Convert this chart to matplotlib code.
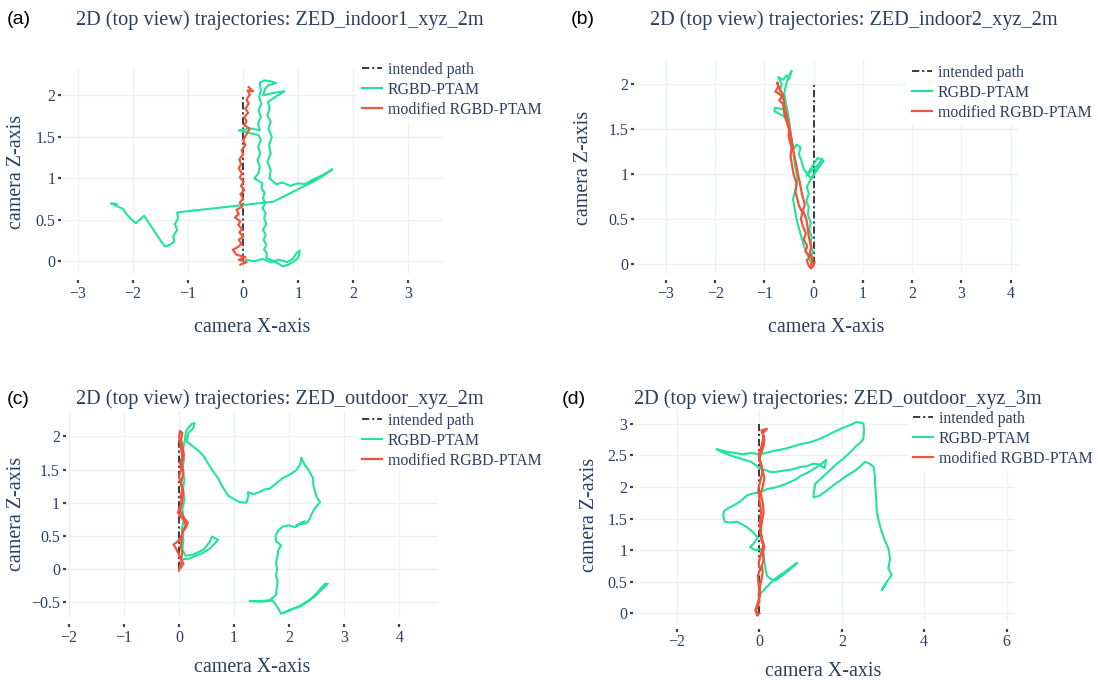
import matplotlib
matplotlib.use("Agg")
import matplotlib.pyplot as plt

# velikost obrazku v pixelech
W, H = 1098, 680

plt.rcParams['font.family'] = ['Liberation Serif', 'DejaVu Serif']

# --- data (X, Z) ---
panel_letters = ['(a)', '(b)', '(c)', '(d)']
panel_titles = ['2D (top view) trajectories: ZED_indoor1_xyz_2m',
                '2D (top view) trajectories: ZED_indoor2_xyz_2m',
                '2D (top view) trajectories: ZED_outdoor_xyz_2m',
                '2D (top view) trajectories: ZED_outdoor_xyz_3m']
series_names = ['intended path', 'RGBD-PTAM', 'modified RGBD-PTAM']

indoor1_path = [(0.0, 0.0), (0.0, 2.0)]
indoor1_rgbd = [(0.05, 0.02), (0.2, 0.0), (0.35, 0.03), (0.5, -0.01), (0.65, 0.02), (0.8, -0.01), (0.9, 0.03),
                (0.97, 0.1), (1.03, 0.13), (1.0, 0.04), (0.92, 0.0), (0.82, -0.04), (0.72, -0.06), (0.62, -0.02),
                (0.5, 0.02), (0.42, 0.04), (0.43, 0.1), (0.38, 0.14), (0.42, 0.2), (0.37, 0.26), (0.41, 0.32),
                (0.36, 0.38), (0.42, 0.45), (0.38, 0.52), (0.41, 0.58), (0.35, 0.64), (0.4, 0.7), (0.36, 0.76),
                (0.39, 0.83), (0.33, 0.88), (0.35, 0.94), (0.2, 1.0), (0.28, 1.06), (0.3, 1.14), (0.26, 1.22),
                (0.31, 1.3), (0.27, 1.38), (0.32, 1.46), (0.28, 1.52), (0.1, 1.55), (-0.08, 1.58), (0.15, 1.6),
                (0.3, 1.58), (0.27, 1.66), (0.32, 1.74), (0.28, 1.82), (0.33, 1.9), (0.29, 1.98), (0.32, 2.06),
                (0.3, 2.15), (0.38, 2.18), (0.5, 2.17), (0.6, 2.15), (0.45, 2.12), (0.4, 2.08), (0.36, 2.0),
                (0.55, 2.03), (0.75, 2.05), (0.58, 1.98), (0.45, 1.92), (0.48, 1.85), (0.44, 1.76), (0.5, 1.68),
                (0.46, 1.6), (0.52, 1.5), (0.47, 1.4), (0.5, 1.3), (0.44, 1.2), (0.5, 1.1), (0.48, 1.0),
                (0.6, 0.93), (0.72, 0.95), (0.85, 0.91), (1.0, 0.94), (1.12, 0.93), (1.25, 0.98), (1.38, 1.02),
                (1.5, 1.06), (1.62, 1.11), (1.45, 1.03), (1.3, 0.97), (0.55, 0.72), (-1.2, 0.59), (-1.18, 0.52),
                (-1.24, 0.45), (-1.2, 0.38), (-1.27, 0.3), (-1.25, 0.24), (-1.33, 0.2), (-1.42, 0.18),
                (-1.5, 0.25), (-1.62, 0.37), (-1.75, 0.5), (-1.8, 0.55), (-1.95, 0.46), (-2.02, 0.5),
                (-2.12, 0.57), (-2.18, 0.63), (-2.28, 0.66), (-2.4, 0.7), (-2.3, 0.69)]
indoor1_mod = [(-0.05, -0.04), (0.06, -0.01), (-0.08, 0.02), (0.04, 0.05), (-0.12, 0.08), (-0.19, 0.14),
               (-0.1, 0.17), (-0.03, 0.21), (-0.08, 0.26), (0.0, 0.3), (-0.07, 0.35), (-0.02, 0.39),
               (-0.09, 0.44), (-0.05, 0.48), (-0.15, 0.53), (-0.08, 0.57), (-0.12, 0.62), (-0.02, 0.66),
               (-0.06, 0.71), (0.0, 0.76), (-0.05, 0.81), (0.02, 0.86), (-0.04, 0.91), (0.01, 0.96),
               (-0.06, 1.01), (-0.02, 1.06), (-0.08, 1.12), (-0.04, 1.17), (-0.07, 1.23), (0.0, 1.29),
               (-0.03, 1.34), (0.04, 1.4), (0.0, 1.46), (0.05, 1.52), (0.12, 1.6), (0.02, 1.64), (0.06, 1.69),
               (0.02, 1.74), (0.09, 1.79), (0.04, 1.84), (0.1, 1.9), (0.06, 1.95), (0.12, 2.01), (0.08, 2.06),
               (0.18, 2.05), (0.1, 2.1)]

indoor2_path = [(0.0, 0.0), (0.0, 2.0)]
indoor2_rgbd = [(-0.03, -0.02), (-0.05, 0.06), (-0.02, 0.14), (-0.07, 0.22), (-0.04, 0.3), (-0.09, 0.38),
                (-0.06, 0.46), (-0.12, 0.55), (-0.1, 0.63), (-0.15, 0.7), (-0.1, 0.78), (-0.14, 0.86),
                (0.05, 1.05), (0.17, 1.17), (0.12, 1.12), (-0.15, 0.98), (0.08, 1.18), (0.2, 1.15),
                (-0.05, 0.95), (-0.2, 1.05), (-0.25, 1.15), (-0.3, 1.22), (-0.27, 1.3), (-0.35, 1.33),
                (-0.4, 1.28), (-0.45, 1.38), (-0.5, 1.5), (-0.55, 1.6), (-0.62, 1.65), (-0.8, 1.7),
                (-0.78, 1.74), (-0.62, 1.72), (-0.6, 1.82), (-0.7, 1.9), (-0.65, 2.0), (-0.72, 2.08),
                (-0.62, 2.05), (-0.55, 2.1), (-0.5, 2.06), (-0.45, 2.15), (-0.55, 2.02), (-0.6, 1.9),
                (-0.55, 1.75), (-0.5, 1.6), (-0.47, 1.45), (-0.43, 1.3), (-0.38, 1.1), (-0.33, 0.95),
                (-0.36, 0.85), (-0.42, 0.72), (-0.38, 0.6), (-0.35, 0.5), (-0.3, 0.4), (-0.25, 0.3),
                (-0.2, 0.2), (-0.12, 0.1), (-0.06, 0.02)]
indoor2_mod = [(0.0, -0.01), (-0.05, -0.05), (-0.1, -0.02), (-0.14, 0.04), (-0.08, 0.08), (-0.17, 0.14),
               (-0.13, 0.2), (-0.2, 0.27), (-0.16, 0.34), (-0.22, 0.42), (-0.26, 0.5), (-0.23, 0.57),
               (-0.3, 0.65), (-0.34, 0.74), (-0.37, 0.8), (-0.35, 0.9), (-0.41, 1.0), (-0.44, 1.1),
               (-0.47, 1.2), (-0.45, 1.3), (-0.51, 1.42), (-0.5, 1.5), (-0.56, 1.6), (-0.6, 1.68),
               (-0.62, 1.78), (-0.7, 1.82), (-0.64, 1.87), (-0.78, 1.92), (-0.72, 1.97), (-0.74, 2.02),
               (-0.69, 1.95), (-0.62, 1.88), (-0.6, 1.78), (-0.56, 1.68), (-0.5, 1.55), (-0.46, 1.42),
               (-0.42, 1.28), (-0.36, 1.12), (-0.32, 1.0), (-0.28, 0.9), (-0.24, 0.78), (-0.18, 0.66),
               (-0.22, 0.6), (-0.15, 0.5), (-0.12, 0.4), (-0.1, 0.3), (-0.05, 0.2), (-0.08, 0.12),
               (-0.02, 0.06), (-0.06, -0.04), (0.02, 0.02)]

outdoor2_path = [(0.0, 0.0), (0.0, 2.0)]
outdoor2_rgbd = [(0.08, 0.15), (0.19, 0.16), (0.3, 0.2), (0.42, 0.24), (0.56, 0.31), (0.64, 0.38), (0.71, 0.44),
                 (0.6, 0.49), (0.55, 0.4), (0.45, 0.3), (0.36, 0.26), (0.25, 0.22), (0.12, 0.2), (0.06, 0.3),
                 (0.08, 0.45), (0.05, 0.6), (0.09, 0.75), (0.06, 0.9), (0.1, 1.05), (0.07, 1.2), (0.1, 1.35),
                 (0.06, 1.5), (0.09, 1.65), (0.07, 1.8), (0.1, 1.92), (0.13, 2.08), (0.22, 2.18), (0.28, 2.2),
                 (0.26, 2.12), (0.17, 2.05), (0.14, 1.92), (0.25, 1.85), (0.37, 1.77), (0.45, 1.7), (0.52, 1.6),
                 (0.62, 1.47), (0.7, 1.38), (0.77, 1.27), (0.84, 1.17), (0.89, 1.11), (1.0, 1.05), (1.1, 1.01),
                 (1.22, 1.0), (1.26, 1.1), (1.25, 1.16), (1.35, 1.13), (1.46, 1.16), (1.55, 1.2), (1.64, 1.21),
                 (1.75, 1.28), (1.88, 1.37), (2.0, 1.42), (2.13, 1.49), (2.2, 1.58), (2.22, 1.68), (2.28, 1.57),
                 (2.36, 1.48), (2.43, 1.37), (2.44, 1.25), (2.47, 1.16), (2.5, 1.08), (2.56, 1.01), (2.46, 0.91),
                 (2.4, 0.82), (2.37, 0.75), (2.31, 0.69), (2.2, 0.68), (2.13, 0.66), (2.28, 0.72), (2.1, 0.63),
                 (2.0, 0.66), (1.88, 0.64), (1.8, 0.58), (1.75, 0.5), (1.76, 0.42), (1.85, 0.36), (1.8, 0.28),
                 (1.79, 0.2), (1.76, 0.1), (1.78, 0.0), (1.76, -0.1), (1.79, -0.19), (1.77, -0.3), (1.76, -0.39),
                 (1.64, -0.47), (1.45, -0.48), (1.28, -0.48), (1.5, -0.49), (1.7, -0.47), (1.76, -0.54),
                 (1.82, -0.62), (1.85, -0.67), (2.0, -0.62), (2.15, -0.57), (2.3, -0.5), (2.45, -0.42),
                 (2.6, -0.3), (2.7, -0.22), (2.65, -0.22), (2.5, -0.36), (2.35, -0.48), (2.2, -0.56),
                 (2.05, -0.6), (1.9, -0.66)]
outdoor2_mod = [(0.0, -0.02), (0.02, 0.05), (0.05, 0.1), (0.02, 0.18), (-0.02, 0.25), (-0.06, 0.32), (-0.1, 0.37),
                (-0.05, 0.4), (0.02, 0.45), (0.05, 0.52), (0.09, 0.6), (0.12, 0.66), (0.1, 0.72), (0.04, 0.78),
                (-0.02, 0.85), (0.01, 0.92), (0.05, 1.0), (0.03, 1.1), (0.06, 1.2), (0.03, 1.3), (0.0, 1.4),
                (0.04, 1.5), (0.02, 1.6), (0.06, 1.7), (0.04, 1.8), (0.02, 1.9), (0.0, 2.0), (0.02, 2.08),
                (0.06, 2.05), (0.04, 1.95), (0.06, 1.85), (0.09, 1.72), (0.05, 1.6), (0.08, 1.45), (0.04, 1.3),
                (0.08, 1.15), (0.05, 1.0), (0.02, 0.88), (0.08, 0.78), (0.16, 0.7), (0.12, 0.62), (0.06, 0.56),
                (0.05, 0.45), (0.03, 0.35), (0.06, 0.25), (0.04, 0.15), (0.08, 0.08), (0.03, 0.02)]

outdoor3_path = [(0.0, 0.0), (0.0, 3.0)]
outdoor3_rgbd = [(0.0, 0.3), (0.12, 0.38), (0.25, 0.47), (0.4, 0.56), (0.55, 0.63), (0.7, 0.7), (0.91, 0.8),
                 (0.75, 0.7), (0.55, 0.6), (0.38, 0.52), (0.26, 0.55), (0.18, 0.6), (0.15, 0.7), (0.12, 0.82),
                 (0.1, 0.95), (0.02, 1.02), (-0.1, 1.0), (-0.23, 1.05), (-0.15, 1.1), (-0.04, 1.2), (-0.18, 1.3),
                 (-0.31, 1.37), (-0.45, 1.42), (-0.55, 1.45), (-0.7, 1.44), (-0.84, 1.45), (-0.88, 1.55),
                 (-0.86, 1.62), (-0.75, 1.67), (-0.6, 1.72), (-0.47, 1.77), (-0.3, 1.87), (-0.15, 1.9),
                 (0.02, 1.92), (0.2, 1.97), (0.42, 2.0), (0.6, 2.04), (0.74, 2.08), (0.88, 2.12), (1.0, 2.18),
                 (1.15, 2.22), (1.3, 2.28), (1.45, 2.34), (1.62, 2.43), (1.58, 2.3), (1.45, 2.36), (1.3, 2.37),
                 (1.15, 2.33), (1.0, 2.32), (0.8, 2.28), (0.58, 2.26), (0.4, 2.24), (0.26, 2.24), (0.1, 2.28),
                 (0.0, 2.3), (-0.2, 2.4), (-0.45, 2.45), (-0.7, 2.5), (-0.9, 2.55), (-1.04, 2.6), (-0.8, 2.56),
                 (-0.6, 2.54), (-0.4, 2.52), (-0.2, 2.54), (0.02, 2.52), (0.2, 2.55), (0.4, 2.58), (0.58, 2.6),
                 (0.8, 2.64), (1.0, 2.68), (1.23, 2.71), (1.45, 2.76), (1.65, 2.82), (1.8, 2.87), (2.0, 2.93),
                 (2.2, 2.98), (2.36, 3.03), (2.52, 3.01), (2.54, 2.9), (2.52, 2.76), (2.45, 2.7), (2.36, 2.66),
                 (2.25, 2.58), (2.12, 2.5), (2.0, 2.43), (1.88, 2.37), (1.7, 2.26), (1.5, 2.14), (1.35, 2.05),
                 (1.33, 1.95), (1.31, 1.84), (1.45, 1.86), (1.6, 1.93), (1.8, 2.03), (1.95, 2.1), (2.12, 2.18),
                 (2.3, 2.25), (2.45, 2.33), (2.56, 2.4), (2.7, 2.36), (2.77, 2.32), (2.8, 2.2), (2.81, 2.03),
                 (2.83, 1.85), (2.85, 1.61), (2.9, 1.45), (2.97, 1.29), (3.05, 1.15), (3.13, 1.03), (3.17, 0.87),
                 (3.13, 0.71), (3.21, 0.61), (3.09, 0.5), (2.97, 0.37), (3.05, 0.45)]
outdoor3_mod = [(-0.05, -0.03), (-0.08, 0.05), (-0.04, 0.12), (0.0, 0.2), (-0.02, 0.3), (0.02, 0.45), (0.05, 0.55),
                (0.08, 0.65), (0.06, 0.75), (0.1, 0.85), (0.08, 0.95), (0.12, 1.05), (0.05, 1.15), (0.02, 1.3),
                (0.06, 1.45), (0.1, 1.6), (0.08, 1.75), (0.03, 1.9), (0.08, 2.0), (0.12, 2.15), (0.06, 2.3),
                (0.0, 2.45), (0.05, 2.55), (0.1, 2.65), (0.12, 2.75), (0.08, 2.85), (0.18, 2.92), (0.05, 2.9),
                (0.1, 2.8), (0.05, 2.65), (-0.02, 2.5), (0.02, 2.4), (0.08, 2.25), (0.02, 2.1), (-0.03, 1.95),
                (0.0, 1.8), (0.04, 1.6), (0.0, 1.4), (0.06, 1.2), (0.1, 1.1), (0.04, 0.95), (-0.02, 0.8),
                (0.02, 0.7), (-0.04, 0.6), (-0.02, 0.45), (0.02, 0.3), (-0.05, 0.15), (-0.1, 0.05),
                (-0.05, -0.02), (0.0, 0.0)]

# popisky os
xticks_a = [-3, -2, -1, 0, 1, 2, 3]
xticks_b = [-3, -2, -1, 0, 1, 2, 3, 4]
xticks_c = [-2, -1, 0, 1, 2, 3, 4]
xticks_d = [-2, 0, 2, 4, 6]
yticks_ab = [0, 0.5, 1, 1.5, 2]
yticks_c = [-0.5, 0, 0.5, 1, 1.5, 2]
yticks_d = [0, 0.5, 1, 1.5, 2, 2.5, 3]

TEXT = '#2a3f5f'
GRID = '#ebf0f8'
GREEN = '#22e39a'
RED = '#ef553b'

fig = plt.figure(figsize=(W / 100, H / 100), dpi=100)


def fmt(v):
    s = ('%g' % v)
    return s.replace('-', '\u2212')


def draw_panel(i, path, rgbd, mod, rect, xlim, ylim, xticks, yticks,
               title_x, title_y, letter_x, legend_xy, xlabel_xy, ylabel_xy):
    """ jeden podgraf ve stylu plotly, rect = (levy, horni, pravy, dolni) v px """
    l, t, r, b = rect
    ax = fig.add_axes([l / W, 1 - b / H, (r - l) / W, (b - t) / H])
    ax.set_facecolor('white')
    for s in ax.spines.values():
        s.set_visible(False)
    ax.spines['bottom'].set_position(('outward', 5))
    ax.grid(True, color=GRID, lw=1.0)
    ax.set_axisbelow(True)

    px, pz = zip(*path)
    ax.plot(px, pz, color='#2b2b2b', lw=1.3, dashes=(4, 1.6, 1.2, 1.6), label=series_names[0])
    gx, gz = zip(*rgbd)
    ax.plot(gx, gz, color=GREEN, lw=1.5, label=series_names[1])
    mx, mz = zip(*mod)
    ax.plot(mx, mz, color=RED, lw=1.6, label=series_names[2])

    ax.set_xlim(*xlim)
    ax.set_ylim(*ylim)
    ax.set_xticks(xticks)
    ax.set_xticklabels([fmt(v) for v in xticks])
    ax.set_yticks(yticks)
    ax.set_yticklabels([fmt(v) for v in yticks])
    ax.tick_params(direction='out', length=2, width=1.6, color='#444444',
                   labelsize=11.5, labelcolor=TEXT, pad=2)

    ax.set_xlabel('camera X-axis', fontsize=14.4, color=TEXT, va='center', ha='center')
    ax.xaxis.set_label_coords(xlabel_xy[0] / W, 1 - xlabel_xy[1] / H, transform=fig.transFigure)
    ax.set_ylabel('camera Z-axis', fontsize=14.4, color=TEXT, va='center', ha='center')
    ax.yaxis.set_label_coords(ylabel_xy[0] / W, 1 - ylabel_xy[1] / H, transform=fig.transFigure)

    leg = ax.legend(loc='upper left', bbox_to_anchor=(legend_xy[0] / W, 1 - legend_xy[1] / H),
                    bbox_transform=fig.transFigure, fontsize=11.4, handlelength=1.3,
                    handletextpad=0.35, labelspacing=0.25, borderpad=0.3, borderaxespad=0,
                    fancybox=False, framealpha=1)
    leg.get_frame().set_linewidth(0)
    for txt in leg.get_texts():
        txt.set_color(TEXT)

    fig.text(letter_x / W, 1 - title_y / H, panel_letters[i], family='Liberation Sans',
             fontsize=14, color='black', ha='left', va='center')
    fig.text(title_x / W, 1 - title_y / H, panel_titles[i], fontsize=14.6, color=TEXT,
             ha='left', va='center')
    return ax


draw_panel(0, indoor1_path, indoor1_rgbd, indoor1_mod, (61, 68, 443, 273), (-3.31, 3.63), (-0.14, 2.33),
           xticks_a, yticks_ab, 76, 20, 7, (357, 57), (252, 327), (17, 172))
draw_panel(1, indoor2_path, indoor2_rgbd, indoor2_mod, (634, 60, 1019, 273), (-3.65, 4.17), (-0.10, 2.27),
           xticks_b, yticks_ab, 650, 20, 571, (907, 60), (826, 327), (584, 168))
draw_panel(2, outdoor2_path, outdoor2_rgbd, outdoor2_mod, (65.5, 411.7, 437.5, 617), (-2.06, 4.69), (-0.72, 2.37),
           xticks_c, yticks_c, 76, 399, 7, (357, 408), (252, 668), (17, 514))
draw_panel(3, outdoor3_path, outdoor3_rgbd, outdoor3_mod, (633, 410, 1014, 621.7), (-3.07, 6.18), (-0.13, 3.22),
           xticks_d, yticks_d, 634, 399, 562, (908, 406), (823, 671), (590, 515))

plt.savefig('out.png', dpi=100)
